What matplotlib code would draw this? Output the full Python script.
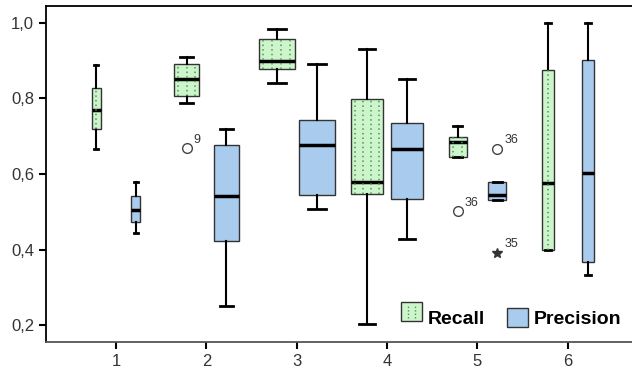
import numpy as np
import matplotlib.pyplot as plt
from matplotlib.patches import Patch
from matplotlib.legend_handler import HandlerBase
from matplotlib.lines import Line2D
from matplotlib.patches import Rectangle

plt.rcParams['font.family'] = ['Liberation Sans', 'DejaVu Sans']

groups = ['1', '2', '3', '4', '5', '6']

# Recall box stats
rec_whislo = [0.667, 0.789, 0.842, 0.204, 0.644, 0.399]
rec_q1 = [0.719, 0.806, 0.879, 0.548, 0.644, 0.399]
rec_med = [0.770, 0.852, 0.898, 0.580, 0.686, 0.576]
rec_q3 = [0.829, 0.891, 0.958, 0.798, 0.698, 0.876]
rec_whishi = [0.888, 0.911, 0.983, 0.932, 0.726, 1.000]

# Precision box stats
pre_whislo = [0.445, 0.251, 0.508, 0.429, 0.532, 0.333]
pre_q1 = [0.474, 0.423, 0.544, 0.534, 0.532, 0.368]
pre_med = [0.505, 0.541, 0.676, 0.667, 0.545, 0.602]
pre_q3 = [0.543, 0.678, 0.744, 0.735, 0.580, 0.901]
pre_whishi = [0.580, 0.719, 0.892, 0.851, 0.580, 1.000]

# outliers: (group index, value, label, marker)
rec_out = [(1, 0.668, '9', 'o'), (4, 0.501, '36', 'o')]
pre_out = [(4, 0.667, '36', 'o'), (4, 0.391, '35', '*')]

widths = [0.10, 0.28, 0.40, 0.35, 0.20, 0.13]
offset = 0.22

green = '#ccf5cc'
blue = '#a9cbee'
dotc = '#4f934f'


def make_stats(lo, q1, med, q3, hi):
    return [dict(whislo=a, q1=b, med=c, q3=d, whishi=e, fliers=[])
            for a, b, c, d, e in zip(lo, q1, med, q3, hi)]


class DottedBoxHandler(HandlerBase):
    # legend square with vertical dotted lines like the boxes
    def create_artists(self, legend, orig, xd, yd, w, h, fs, trans):
        r = Rectangle((xd, yd), w, h, facecolor=green, edgecolor='#333333',
                      lw=1, transform=trans)
        arts = [r]
        for fx in (0.35, 0.65):
            arts.append(Line2D([xd + w * fx] * 2, [yd + 2, yd + h - 2],
                               color=dotc, ls=(0, (1, 1.5)), lw=1, transform=trans))
        return arts


fig = plt.figure(figsize=(6.32, 3.77), dpi=100)
ax = fig.add_axes([46 / 632, 35 / 377, 1 - 46 / 632, 336 / 377])

x = list(range(1, len(groups) + 1))
common = dict(patch_artist=True, showfliers=False,
              whiskerprops=dict(color='black', lw=1.5),
              capprops=dict(color='black', lw=2),
              medianprops=dict(color='black', lw=2.5))

rec_pos = [i - offset for i in x]
rec = ax.bxp(make_stats(rec_whislo, rec_q1, rec_med, rec_q3, rec_whishi),
             positions=rec_pos, widths=widths,
             capwidths=[w * 0.5 for w in widths],
             boxprops=dict(facecolor=green, edgecolor='#333333', lw=1), **common)
pre = ax.bxp(make_stats(pre_whislo, pre_q1, pre_med, pre_q3, pre_whishi),
             positions=[i + offset for i in x], widths=widths,
             capwidths=[w * 0.5 for w in widths],
             boxprops=dict(facecolor=blue, edgecolor='#333333', lw=1), **common)

# dotted vertical pattern on recall boxes
step = 0.085
for p, w, lo, hi in zip(rec_pos, widths, rec_q1, rec_q3):
    n = max(1, int(w / step))
    xs = p - w / 2 + w * (np.arange(n) + 0.5) / n
    ax.vlines(xs, lo, hi, colors=dotc, linestyles=(0, (1, 2)), lw=1.1, zorder=2.5)

for outs, off in ((rec_out, -offset), (pre_out, offset)):
    for gi, v, lab, m in outs:
        xp = x[gi] + off
        if m == 'o':
            ax.plot(xp, v, 'o', mfc='white', mec='#444444', ms=7, mew=1)
        else:
            ax.plot(xp, v, '*', color='#333333', ms=7)
        ax.annotate(lab, (xp, v), xytext=(5, 4), textcoords='offset points',
                    fontsize=9, color='#333333')

ax.set_xlim(0.225, 6.71)
ax.set_ylim(0.155, 1.045)
ax.set_xticks(x)
ax.set_xticklabels(groups)
yt = [0.2, 0.4, 0.6, 0.8, 1.0]
ax.set_yticks(yt)
ax.set_yticklabels([f'{v:.1f}'.replace('.', ',') for v in yt])
ax.tick_params(labelsize=12, labelcolor='#333333', width=1.5, length=5)
ax.spines['right'].set_visible(False)
for s in ('left', 'top', 'bottom'):
    ax.spines[s].set_linewidth(1.3)
ax.spines['bottom'].set_color('#555555')

rec_handle = Patch(facecolor=green, edgecolor='#333333', label='Recall')
pre_handle = Patch(facecolor=blue, edgecolor='#333333', label='Precision')
ax.legend(handles=[rec_handle, pre_handle], loc='lower right', frameon=False, ncol=2,
          prop=dict(size=14, weight='bold'), handlelength=1.1, handleheight=1.1,
          handletextpad=0.3, columnspacing=1.1, bbox_to_anchor=(1.012, -0.01),
          handler_map={rec_handle: DottedBoxHandler()})

fig.savefig('out.png', dpi=100)
